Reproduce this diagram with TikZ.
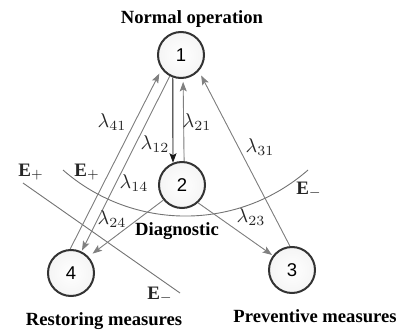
\RequirePackage{fix-cm}
\documentclass[tikz,border=0pt]{standalone}
\usepackage{fontspec}
\setmainfont{Liberation Serif}
\newfontfamily\digitfont{Liberation Sans}
\usetikzlibrary{arrows.meta}
\begin{document}
\begin{tikzpicture}[x=1pt,y=1pt,
  state/.style={circle, draw=black!80, line width=2pt, inner sep=0pt,
    minimum size=46pt, inner color=white, outer color=black!4,
    font=\digitfont\fontsize{18.5}{18.5}\selectfont},
  conn/.style={draw=black!50, line width=0.9pt,
    -{Stealth[length=9.5pt,width=7pt,inset=2pt]}},
  ttl/.style={font=\bfseries\fontsize{18.6}{20}\selectfont, anchor=base, inner sep=0pt},
  lam/.style={scale=2, inner sep=0pt, text=black!85},
  elab/.style={scale=1.9, inner sep=0pt, text=black!85},
  bound/.style={draw=black!55, line width=0.9pt}
]
\useasboundingbox (0,-331) rectangle (401,0);

% states
\node[state] (n1) at (181,-55) {1};
\node[state] (n2) at (182,-185) {2};
\node[state] (n3) at (292,-270) {3};
\node[state] (n4) at (71,-273) {4};

% titles
\node[ttl] (t1) at (192,-24) {Normal operation};
\node[ttl] (t2) at (177,-235) {Diagnostic};
\node[ttl] (t4) at (104,-325) {Restoring measures};
\node[ttl] (t3) at (315,-322) {Preventive measures};

% boundaries
\coordinate (a1) at (63,-170);
\draw[bound] (a1) arc[start angle=228.8, end angle=311.2, radius=186];
\coordinate (b1) at (23,-183);
\coordinate (b2) at (180,-293);
\draw[bound] (b1) -- (b2);

% transitions
\draw[conn, draw=black!90, fill=black!90] (n1.250) -- (n2.112);
\draw[conn, fill=black!50, shorten >=3pt] (n2.85) -- (n1.275);
\draw[conn, fill=black!50, shorten >=5pt] (n4.92) -- (n1.216);
\draw[conn, fill=black!50, shorten >=1pt] (n1.242) -- (n4.64);
\draw[conn, fill=black!50, shorten >=5pt] (n2.219) -- (n4.43);
\draw[conn, fill=black!50, shorten >=1pt] (n2.312) -- (n3.143);
\draw[conn, fill=black!50, shorten >=5pt] (n3.95) -- (n1.318);

% rate labels
\node[lam] (l41) at (112,-122) {$\lambda_{41}$};
\node[lam] (l12) at (155,-144) {$\lambda_{12}$};
\node[lam] (l21) at (197,-122) {$\lambda_{21}$};
\node[lam] (l14) at (134,-183) {$\lambda_{14}$};
\node[lam] (l24) at (112,-219) {$\lambda_{24}$};
\node[lam] (l23) at (251,-217) {$\lambda_{23}$};
\node[lam] (l31) at (260,-147) {$\lambda_{31}$};

% boundary labels
\node[elab] (e1) at (87,-172) {$\mathbf{E}_+$};
\node[elab] (e2) at (31,-172) {$\mathbf{E}_+$};
\node[elab] (e3) at (309,-190) {$\mathbf{E}_-$};
\node[elab] (e4) at (160,-295) {$\mathbf{E}_-$};
\end{tikzpicture}
\end{document}
